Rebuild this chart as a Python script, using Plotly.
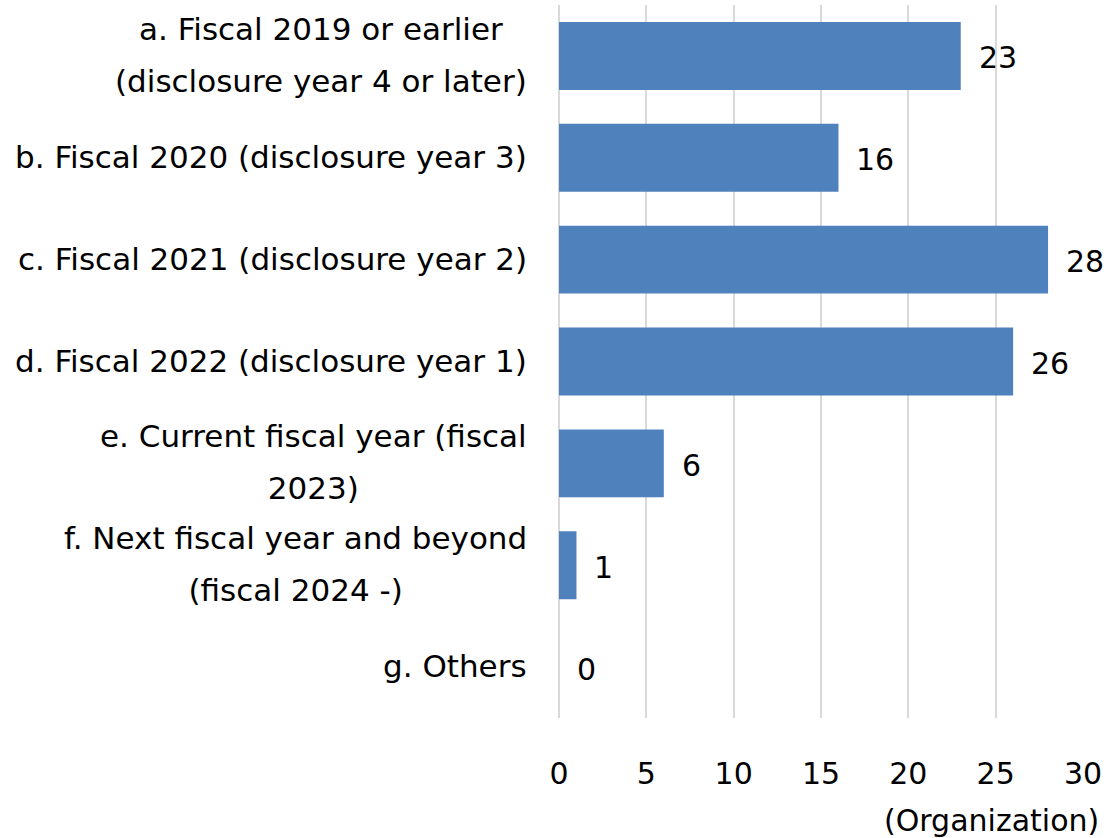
import plotly.graph_objects as go

# Survey responses: fiscal year in which disclosure started
categories = [
    "a. Fiscal 2019 or earlier<br>(disclosure year 4 or later)",
    "b. Fiscal 2020 (disclosure year 3)",
    "c. Fiscal 2021 (disclosure year 2)",
    "d. Fiscal 2022 (disclosure year 1)",
    "e. Current fiscal year (fiscal<br>2023)",
    "f. Next fiscal year and beyond<br>(fiscal 2024 -)",
    "g. Others",
]
counts = [23, 16, 28, 26, 6, 1, 0]
x_ticks = [0, 5, 10, 15, 20, 25, 30]
unit_label = "(Organization)"

FONT = "DejaVu Sans"
TEXT_SIZE = 30
LABEL_SIZE = 31
BAR_COLOR = "#4F81BD"
GRID_COLOR = "#D9D9D9"

keys = [c.split(".")[0] for c in categories]

fig = go.Figure(
    go.Bar(
        x=counts,
        y=keys,
        orientation="h",
        marker=dict(color=BAR_COLOR, line=dict(width=0)),
        hoverinfo="skip",
    )
)

annotations = []
# Category labels: right-aligned block, lines centred within it
for key, label in zip(keys, categories):
    annotations.append(dict(
        x=0, xref="paper", y=key, yref="y",
        xanchor="right", yanchor="middle", xshift=-30, yshift=1,
        align="center", showarrow=False,
        text=f"<span style='font-size:{LABEL_SIZE}px'>{label}</span>",
        font=dict(family=FONT, size=40, color="#000000"),
    ))
# Value labels to the right of each bar
for key, v in zip(keys, counts):
    annotations.append(dict(
        x=v, xref="x", y=key, yref="y",
        xanchor="left", yanchor="middle", xshift=16, yshift=-2,
        showarrow=False, text=str(v),
        font=dict(family=FONT, size=TEXT_SIZE, color="#000000"),
    ))
annotations.append(dict(
    x=1, xref="paper", y=0, yref="paper",
    xanchor="right", yanchor="middle", xshift=18, yshift=-102,
    showarrow=False, text=unit_label,
    font=dict(family=FONT, size=TEXT_SIZE, color="#000000"),
))

fig.update_layout(
    width=1106, height=838,
    margin=dict(l=559, r=23, t=5, b=120),
    paper_bgcolor="white", plot_bgcolor="white",
    bargap=0.333,
    showlegend=False,
    font=dict(family=FONT, size=TEXT_SIZE, color="#000000"),
    annotations=annotations,
    xaxis=dict(
        range=[0, 30], tickvals=x_ticks, ticktext=[str(t) for t in x_ticks],
        showgrid=True, gridcolor=GRID_COLOR, gridwidth=2,
        zeroline=True, zerolinecolor=GRID_COLOR, zerolinewidth=2,
        showline=False,
        ticks="outside", ticklen=29, tickcolor="rgba(0,0,0,0)",
        tickfont=dict(family=FONT, size=TEXT_SIZE, color="#000000"),
        fixedrange=True,
    ),
    yaxis=dict(
        categoryorder="array", categoryarray=keys, autorange="reversed",
        showticklabels=False, showgrid=False, zeroline=False, showline=False,
        fixedrange=True,
    ),
)

fig.write_html("out.html")
